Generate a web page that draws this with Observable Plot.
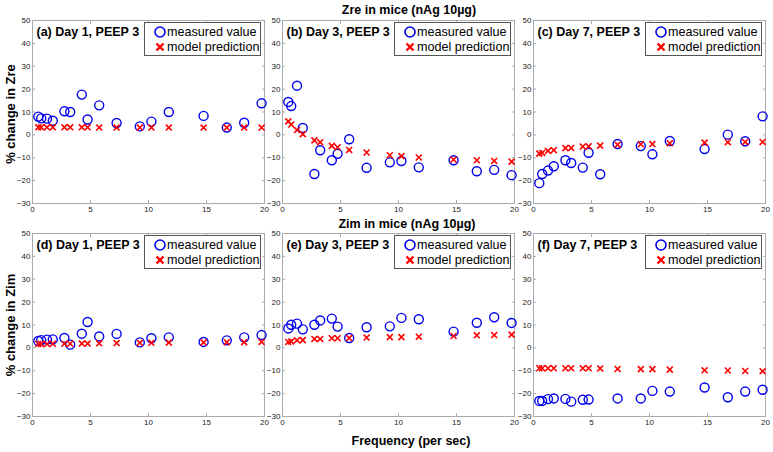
<!DOCTYPE html>
<html>
<head>
<meta charset="utf-8">
<script src="https://cdn.jsdelivr.net/npm/d3@7"></script>
<script src="https://cdn.jsdelivr.net/npm/@observablehq/plot@0.6"></script>
<style>
  body { margin: 0; background: #fff; }
  #fig { position: relative; width: 773px; height: 452px; background: #fff; font-family: "Liberation Sans", Arial, sans-serif; overflow: hidden; }
  .abs { position: absolute; }
  .title { font-weight: bold; font-size: 12.5px; color: #000; white-space: nowrap; transform: translate(-50%, -50%); }
  .ylab { font-weight: bold; font-size: 13px; color: #000; white-space: nowrap; transform: translate(-50%, -50%) rotate(-90deg); }
  .legend { border: 1px solid #555; background: #fff; width: 117px; height: 34px; box-sizing: border-box; }
  .legend .row { position: absolute; left: 0; height: 16px; display: flex; align-items: center; font-size: 12.6px; color: #000; white-space: nowrap; }
  .legend svg { margin-left: 9px; margin-right: 1px; }
</style>
</head>
<body>
<div id="fig"></div>
<script>
// ---- data ----
const freqs = [0.5, 0.75, 1.25, 1.75, 2.75, 3.25, 4.25, 4.75, 5.75, 7.25, 9.25, 10.25, 11.75, 14.75, 16.75, 18.25, 19.75];

const zreDay1Measured = [8.0, 7.2, 7.1, 6.2, 10.3, 10.0, 17.6, 6.7, 12.9, 5.2, 3.7, 5.8, 10.0, 8.3, 3.2, 5.3, 13.8];
const zreDay1Model    = [3.3, 3.3, 3.3, 3.3, 3.3, 3.3, 3.3, 3.3, 3.2, 3.2, 3.2, 3.2, 3.2, 3.2, 3.2, 3.2, 3.2];
const zreDay3Measured = [14.4, 12.6, 21.5, 3.0, -17.1, -6.7, -11.1, -8.3, -1.9, -14.4, -12.0, -11.4, -14.2, -11.1, -15.9, -15.3, -17.6];
const zreDay3Model    = [5.9, 4.5, 2.1, 0.3, -2.4, -3.2, -4.8, -5.4, -6.6, -7.7, -8.9, -9.3, -9.9, -10.8, -11.1, -11.4, -11.7];
const zreDay7Measured = [-21.1, -17.1, -15.6, -13.7, -11.1, -12.3, -14.3, -7.8, -17.2, -4.0, -4.9, -8.5, -2.7, -6.2, 0.1, -2.8, 8.1];
const zreDay7Model    = [-8.2, -7.9, -7.0, -6.7, -5.8, -5.7, -5.1, -5.0, -4.7, -4.3, -4.1, -4.0, -3.7, -3.4, -3.2, -3.1, -3.1];

const zimDay1Measured = [3.0, 3.4, 3.6, 3.7, 4.3, 1.4, 6.2, 11.3, 5.0, 6.1, 2.4, 4.2, 4.6, 2.6, 3.3, 4.6, 5.6];
const zimDay1Model    = [1.7, 1.7, 1.7, 1.8, 1.8, 1.8, 1.9, 1.9, 2.0, 2.1, 2.2, 2.2, 2.3, 2.4, 2.5, 2.5, 2.6];
const zimDay3Measured = [8.5, 10.1, 10.6, 8.1, 10.1, 12.0, 12.8, 9.3, 4.3, 9.0, 9.4, 13.1, 12.5, 7.1, 11.0, 13.4, 10.9];
const zimDay3Model    = [2.6, 2.8, 3.3, 3.4, 3.9, 3.9, 4.2, 4.2, 4.3, 4.5, 4.7, 4.7, 4.9, 5.2, 5.5, 5.6, 5.8];
const zimDay7Measured = [-23.2, -23.2, -22.4, -22.1, -22.3, -23.5, -22.7, -22.6, null, -22.1, -22.1, -18.8, -19.1, -17.3, -21.6, -19.1, -18.3];
const zimDay7Model    = [-8.9, -8.9, -8.9, -8.9, -8.9, -8.9, -8.9, -8.9, -9.0, -9.2, -9.3, -9.3, -9.5, -9.8, -9.9, -10.1, -10.2];

const panelLabels = ["(a) Day 1, PEEP 3", "(b) Day 3, PEEP 3", "(c) Day 7, PEEP 3", "(d) Day 1, PEEP 3", "(e) Day 3, PEEP 3", "(f) Day 7, PEEP 3"];
const xTicks = [0, 5, 10, 15, 20];
const yTicks = [-30, -20, -10, 0, 10, 20, 30, 40, 50];
const xDomain = [0, 20];
const yDomain = [-30, 50];
const legendLabels = ["measured value", "model prediction"];
const titles = ["Zre in mice (nAg 10\u00b5g)", "Zim in mice (nAg 10\u00b5g)", "Frequency (per sec)"];
const yLabels = ["% change in Zre", "% change in Zim"];

// ---- layout ----
const fig = document.getElementById("fig");
const plotLefts = [32, 282, 533];
const plotTops = [20, 233];
const mL = 30, mR = 4, mT = 2, mB = 16, pw = 232, ph = 183;

const panels = [
  [zreDay1Measured, zreDay1Model], [zreDay3Measured, zreDay3Model], [zreDay7Measured, zreDay7Model],
  [zimDay1Measured, zimDay1Model], [zimDay3Measured, zimDay3Model], [zimDay7Measured, zimDay7Model]
];

panels.forEach(([meas, model], i) => {
  const row = Math.floor(i / 3), col = i % 3;
  const measData = freqs.map((f, j) => ({f, v: meas[j]})).filter(d => d.v != null);
  const modelData = freqs.map((f, j) => ({f, v: model[j]}));
  const chart = Plot.plot({
    width: pw + mL + mR,
    height: ph + mT + mB,
    marginLeft: mL, marginRight: mR, marginTop: mT, marginBottom: mB,
    x: {domain: xDomain},
    y: {domain: yDomain},
    style: {fontFamily: "Liberation Sans, Arial, sans-serif", fontSize: "8px", color: "#333", background: "transparent", overflow: "visible"},
    marks: [
      Plot.axisX({ticks: xTicks, tickSize: -3, stroke: "#aaa", tickFormat: () => "", label: null}),
      Plot.axisX({ticks: xTicks, anchor: "top", tickSize: -3, stroke: "#aaa", tickFormat: () => "", label: null}),
      Plot.axisY({ticks: yTicks, tickSize: -3, stroke: "#aaa", tickFormat: () => "", label: null}),
      Plot.axisY({ticks: yTicks, anchor: "right", tickSize: -3, stroke: "#aaa", tickFormat: () => "", label: null}),
      Plot.axisX({ticks: xTicks, tickSize: 0, tickPadding: 3, fill: "#222", label: null}),
      Plot.axisY({ticks: yTicks, tickSize: 0, tickPadding: 2, fill: "#222", label: null}),
      Plot.frame({stroke: "#aaa"}),
      Plot.dot(measData, {x: "f", y: "v", r: 4.5, stroke: "#0000ee", strokeWidth: 1.4, fill: "none"}),
      Plot.dot(modelData, {x: "f", y: "v", r: 2.8, symbol: "times", stroke: "#ff0000", strokeWidth: 1.6}),
      Plot.text([panelLabels[i]], {frameAnchor: "top-left", dx: 4, dy: 7, fontSize: 12.5, fontWeight: "bold", fill: "#000"})
    ]
  });
  chart.style.position = "absolute";
  chart.style.left = (plotLefts[col] - mL) + "px";
  chart.style.top = (plotTops[row] - mT) + "px";
  fig.appendChild(chart);

  // legend
  const lg = document.createElement("div");
  lg.className = "abs legend";
  lg.style.left = (plotLefts[col] + 112) + "px";
  lg.style.top = (plotTops[row] + 2) + "px";
  lg.innerHTML =
    `<div class="row" style="top:1px"><svg width="12" height="12"><circle cx="6" cy="6" r="5" fill="none" stroke="#0000ee" stroke-width="1.6"/></svg>${legendLabels[0]}</div>` +
    `<div class="row" style="top:16px"><svg width="12" height="12"><path d="M2.5,2.5L9.5,9.5M9.5,2.5L2.5,9.5" stroke="#ff0000" stroke-width="2.4"/></svg>${legendLabels[1]}</div>`;
  fig.appendChild(lg);
});

function addText(cls, text, x, y) {
  const d = document.createElement("div");
  d.className = "abs " + cls;
  d.style.left = x + "px";
  d.style.top = y + "px";
  d.textContent = text;
  fig.appendChild(d);
}
addText("title", titles[0], 409, 10);
addText("title", titles[1], 407, 224);
addText("title", titles[2], 411, 441);
addText("ylab", yLabels[0], 10, 114);
addText("ylab", yLabels[1], 10, 325);
</script>
</body>
</html>
